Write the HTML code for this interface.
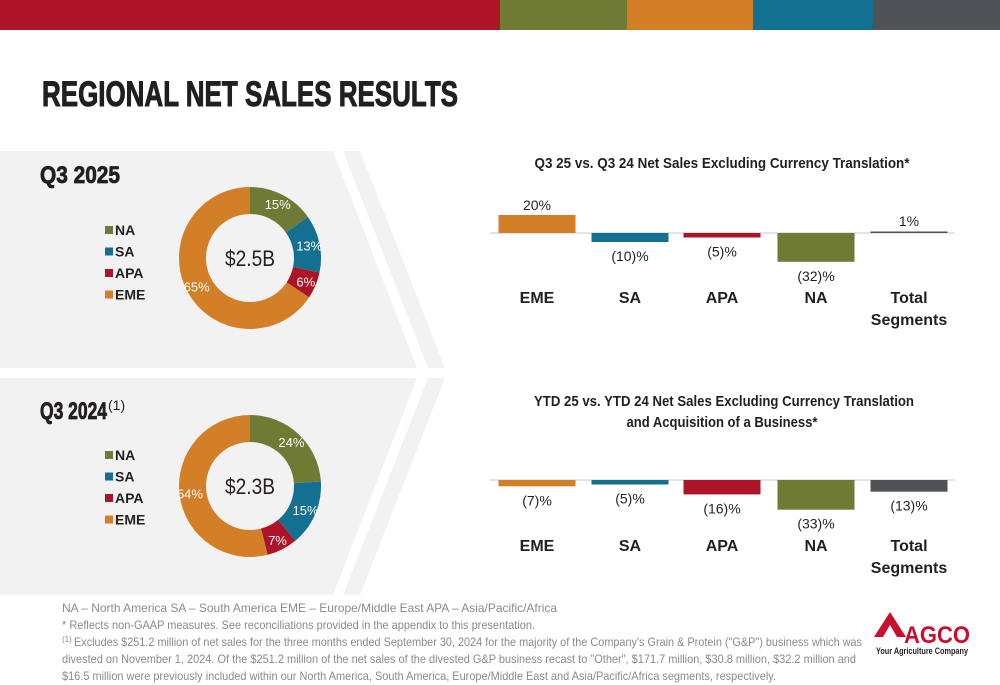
<!DOCTYPE html>
<html><head><meta charset="utf-8"><style>
body{margin:0;width:1000px;height:685px;overflow:hidden;background:#fff;font-family:"Liberation Sans",sans-serif;}
svg{position:absolute;left:0;top:0}
</style></head><body>
<svg width="1000" height="685" viewBox="0 0 1000 685">
<g>
<rect x="0" y="0" width="500" height="30" fill="#ae1428"/>
<rect x="500" y="0" width="127" height="30" fill="#6f7a35"/>
<rect x="627" y="0" width="126" height="30" fill="#d27f28"/>
<rect x="753" y="0" width="120" height="30" fill="#137090"/>
<rect x="873" y="0" width="127" height="30" fill="#4f5256"/>
</g>
<text x="42" y="106" font-size="35" font-weight="bold" fill="#231f20" stroke="#231f20" stroke-width="1" textLength="416" lengthAdjust="spacingAndGlyphs">REGIONAL NET SALES RESULTS</text>
<polygon points="0,151 333,151 417,368 0,368" fill="#f2f2f2"/>
<polygon points="343,151 360,151 445,368 428,368" fill="#f2f2f2"/>
<polygon points="0,378 417,378 333,595 0,595" fill="#f2f2f2"/>
<polygon points="428,378 445,378 360,595 343,595" fill="#f2f2f2"/>
<text x="40" y="183" font-size="24" font-weight="bold" fill="#231f20" stroke="#231f20" stroke-width="0.8" textLength="80" lengthAdjust="spacingAndGlyphs">Q3 2025</text>
<text x="40" y="419" font-size="24" font-weight="bold" fill="#231f20" stroke="#231f20" stroke-width="0.8" textLength="67" lengthAdjust="spacingAndGlyphs">Q3 2024</text>
<text x="108" y="410" font-size="14" fill="#231f20">(1)</text>
<g id="donuts"></g>
<g id="bars"></g>
<text x="722" y="168" text-anchor="middle" font-size="15" font-weight="bold" fill="#231f20" textLength="375" lengthAdjust="spacingAndGlyphs">Q3 25 vs. Q3 24 Net Sales Excluding Currency Translation*</text>
<text x="724" y="406" text-anchor="middle" font-size="15" font-weight="bold" fill="#231f20" textLength="380" lengthAdjust="spacingAndGlyphs">YTD 25 vs. YTD 24 Net Sales Excluding Currency Translation</text>
<text x="722" y="427" text-anchor="middle" font-size="15" font-weight="bold" fill="#231f20" textLength="191" lengthAdjust="spacingAndGlyphs">and Acquisition of a Business*</text>
<g font-size="12" fill="#8a8a8a">
<text x="62" y="612" textLength="495" lengthAdjust="spacingAndGlyphs">NA – North America    SA – South America    EME – Europe/Middle East    APA – Asia/Pacific/Africa</text>
<text x="62" y="629" textLength="473" lengthAdjust="spacingAndGlyphs">* Reflects non-GAAP measures. See reconciliations provided in the appendix to this presentation.</text>
<text x="62" y="642" font-size="8">(1)</text>
<text x="74" y="646" textLength="788" lengthAdjust="spacingAndGlyphs">Excludes $251.2 million of net sales for the three months ended September 30, 2024 for the majority of the Company's Grain &amp; Protein ("G&amp;P") business which was</text>
<text x="62" y="663" textLength="794" lengthAdjust="spacingAndGlyphs">divested on November 1, 2024. Of the $251.2 million of the net sales of the divested G&amp;P business recast to "Other", $171.7 million, $30.8 million, $32.2 million and</text>
<text x="62" y="680" textLength="714" lengthAdjust="spacingAndGlyphs">$16.5 million were previously included within our North America, South America, Europe/Middle East and Asia/Pacific/Africa segments, respectively.</text>
</g>
<g>
<polygon points="874,637 890,612 906,637" fill="#c8102e"/>
<polygon points="883,637 890,625 897,637" fill="#fff"/>
<text x="904" y="643" font-size="24" font-weight="bold" fill="#c8102e" textLength="66" lengthAdjust="spacingAndGlyphs">AGCO</text>
<text x="876" y="654" font-size="9" font-weight="bold" fill="#231f20" textLength="92" lengthAdjust="spacingAndGlyphs">Your Agriculture Company</text>
</g>
</svg>
<script>
const regions=["NA","SA","APA","EME"];
const colors={NA:"#6f7a35",SA:"#137090",APA:"#ae1428",EME:"#d27f28",Total:"#4f5256"};
const q25Shares=[15,13,6,65];
const q24Shares=[24,15,7,54];
const q25Total="$2.5B";
const q24Total="$2.3B";
const barCats=["EME","SA","APA","NA","Total"];
const barLabels=["EME","SA","APA","NA","Total Segments"];
const q3Growth=[20,-10,-5,-32,1];
const ytdGrowth=[-7,-5,-16,-33,-13];
const NS="http://www.w3.org/2000/svg";
function mk(t,a,p){const e=document.createElementNS(NS,t);for(const k in a)e.setAttribute(k,a[k]);p.appendChild(e);return e;}
const dg=document.getElementById('donuts');
function donut(shares,total,cx,cy,legendY,tag){
  const R=71,r=44;const sum=shares.reduce((a,b)=>a+b,0);let a0=-Math.PI/2;
  shares.forEach((v,i)=>{
    const a1=a0+v/sum*2*Math.PI;const lg=(a1-a0)>Math.PI?1:0;
    const p=`M${cx+R*Math.cos(a0)},${cy+R*Math.sin(a0)} A${R},${R} 0 ${lg} 1 ${cx+R*Math.cos(a1)},${cy+R*Math.sin(a1)} L${cx+r*Math.cos(a1)},${cy+r*Math.sin(a1)} A${r},${r} 0 ${lg} 0 ${cx+r*Math.cos(a0)},${cy+r*Math.sin(a0)} Z`;
    const s=mk('path',{d:p,fill:colors[regions[i]]},dg);
    
    
    const am=(a0+a1)/2;const rm=(R+r)/2+3;
    const t=mk('text',{x:cx+rm*Math.cos(am),y:cy+rm*Math.sin(am)+5,'text-anchor':'middle','font-size':13,fill:'#fff'},dg);
    t.textContent=v+'%';
    
    
    a0=a1;
  });
  const c=mk('text',{x:cx,y:cy+8,'text-anchor':'middle','font-size':22,fill:'#231f20',textLength:50,lengthAdjust:'spacingAndGlyphs'},dg);
  c.textContent=total;
  
  
  regions.forEach((g,i)=>{
    const y=legendY+i*21.5;
    const sq=mk('rect',{x:105,y:y-9,width:8,height:8,fill:colors[g]},dg);
    
    
    const t=mk('text',{x:115,y:y,'font-size':14,'font-weight':'bold',fill:'#231f20'},dg);
    t.textContent=g;
    
    
  });
}
donut(q25Shares,q25Total,250,258,235,'q3-2025');
donut(q24Shares,q24Total,250,486,460,'q3-2024');
const bg=document.getElementById('bars');
const xc=[537,630,722,816,909];const bw=77;const k=0.9;
function fmt(v){return v<0?'('+(-v)+')%':v+'%';}
function bars(vals,base,labelY,tag){
  const gl=mk('line',{x1:490,x2:955,y1:base,y2:base,stroke:'#dcdcdc','stroke-width':1.5},bg);
  
  
  vals.forEach((v,i)=>{
    const h=Math.max(Math.abs(v)*k,1.5);const y=v>=0?base-h:base;
    const b=mk('rect',{x:xc[i]-bw/2,y:y,width:bw,height:h,fill:colors[barCats[i]]},bg);
    
    
    const ly=v>=0?(v<3?base-7:y-5):y+h+19;
    const t=mk('text',{x:xc[i],y:ly,'text-anchor':'middle','font-size':14,fill:'#231f20'},bg);
    t.textContent=fmt(v);
    
    
    const parts=barLabels[i].split(' ');
    parts.forEach((p,j)=>{
      const c=mk('text',{x:xc[i],y:labelY+j*22,'text-anchor':'middle','font-size':16,'font-weight':'bold',fill:'#231f20'},bg);
      c.textContent=p;
      
      
    });
  });
}
bars(q3Growth,233,303,'q3-growth');
bars(ytdGrowth,480,551,'ytd-growth');
</script>
</body></html>
